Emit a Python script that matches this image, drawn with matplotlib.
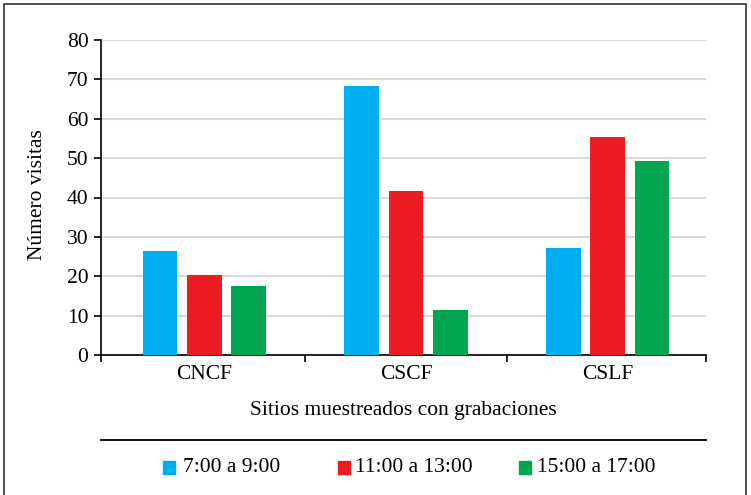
import matplotlib
matplotlib.use("Agg")
import matplotlib.pyplot as plt
from matplotlib.patches import Rectangle
from matplotlib.lines import Line2D
import numpy as np

plt.rcParams['font.family'] = ['Liberation Serif', 'DejaVu Serif']

categories = ["CNCF", "CSCF", "CSLF"]
series_names = ["7:00 a 9:00", "11:00 a 13:00", "15:00 a 17:00"]
values_7_9 = [26.5, 68.3, 27.2]
values_11_13 = [20.3, 41.6, 55.3]
values_15_17 = [17.6, 11.4, 49.2]
colors = ["#00aeef", "#ed1c24", "#00a651"]
y_ticks = [0, 10, 20, 30, 40, 50, 60, 70, 80]

W, H = 751, 495
FS = 15.5
fig = plt.figure(figsize=(W / 100, H / 100), dpi=100)

# outer frame
fig.add_artist(Rectangle((4 / W, -0.01), (746 - 4) / W, (H - 4) / H + 0.01,
                         transform=fig.transFigure, fill=False,
                         edgecolor="#333333", linewidth=1.2))

ax = fig.add_axes([101 / W, (H - 355) / H, (706 - 101) / W, (355 - 40) / H])

x = np.arange(len(categories))
width = 0.172
offset = 0.22
all_series = [values_7_9, values_11_13, values_15_17]
for i, (vals, col, name) in enumerate(zip(all_series, colors, series_names)):
    ax.bar(x + (i - 1) * offset, vals, width=width, color=col, label=name,
           zorder=3)

x_lo, x_hi = -0.512, 2.488
ax.set_xlim(x_lo, x_hi)
ax.set_ylim(0, 80)
ax.set_yticks(y_ticks)
ax.yaxis.grid(True, color="#d9d9d9", linewidth=1.5, zorder=0)
ax.set_axisbelow(True)

ax.set_xticks(x)
ax.set_xticklabels(categories, fontsize=FS)
ax.tick_params(axis="x", length=0, pad=7)
ax.set_xticks([x_lo, 0.5, 1.5, x_hi], minor=True)
ax.tick_params(axis="x", which="minor", length=5, width=1.2, direction="out")
ax.tick_params(axis="y", length=5, width=1.2, labelsize=FS, pad=4)

for s in ["top", "right"]:
    ax.spines[s].set_visible(False)
ax.spines["left"].set_linewidth(1.2)
ax.spines["bottom"].set_linewidth(1.2)

fig.text(38 / W, 1 - 195 / H, "Número visitas", rotation=90, ha="center",
         va="center", fontsize=FS)
fig.text(403 / W, 1 - 410 / H, "Sitios muestreados con grabaciones",
         ha="center", va="center", fontsize=FS)

fig.add_artist(Line2D([101 / W, 706 / W], [1 - 440 / H, 1 - 440 / H],
                      transform=fig.transFigure, color="black", linewidth=1.3))

# legend
leg_items = [(163, 183), (338, 355), (519, 537)]
for (sx, tx), col, name in zip(leg_items, colors, series_names):
    fig.add_artist(Rectangle((sx / W, 1 - 474 / H), 12 / W, 13 / H,
                             transform=fig.transFigure, color=col))
    fig.text(tx / W, 1 - 467 / H, name, ha="left", va="center", fontsize=FS)

fig.savefig("out.png", dpi=100)
